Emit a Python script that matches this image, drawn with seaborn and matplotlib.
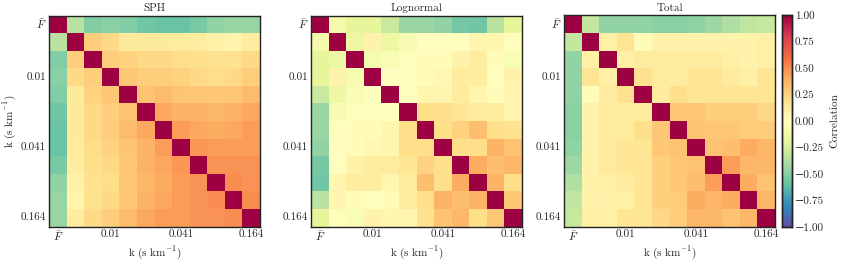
# 3種類の共分散から求めた相関行列を並べて描くコード

import matplotlib

matplotlib.use("Agg")
import matplotlib.pyplot as plt
from matplotlib.ticker import AutoMinorLocator
import numpy as np
import seaborn as sns


# ======================== データ ========================
# 各行は対角より右側（上三角）の相関係数。インデックス0が平均フラックス F̄
SPH_UPPER = [
    [-0.35, -0.52, -0.50, -0.52, -0.57, -0.59, -0.59, -0.54, -0.48, -0.46, -0.46],
    [0.27, 0.22, 0.14, 0.14, 0.14, 0.13, 0.11, 0.09, 0.07, 0.11],
    [0.27, 0.25, 0.22, 0.22, 0.21, 0.20, 0.18, 0.18, 0.22],
    [0.30, 0.27, 0.27, 0.25, 0.22, 0.21, 0.22, 0.27],
    [0.32, 0.35, 0.31, 0.30, 0.29, 0.30, 0.35],
    [0.42, 0.38, 0.38, 0.36, 0.38, 0.42],
    [0.45, 0.42, 0.40, 0.42, 0.45],
    [0.47, 0.45, 0.45, 0.45],
    [0.48, 0.48, 0.48],
    [0.50, 0.48],
    [0.50],
]

LOGNORMAL_UPPER = [
    [-0.10, -0.18, -0.18, -0.30, -0.45, -0.45, -0.47, -0.55, -0.57, -0.35, -0.18],
    [-0.14, 0.08, -0.14, -0.07, 0.00, 0.00, 0.00, 0.07, 0.07, 0.01],
    [-0.08, -0.05, -0.02, 0.02, 0.03, 0.08, 0.12, 0.02, -0.05],
    [0.00, 0.00, 0.02, 0.05, 0.12, 0.12, 0.01, 0.08],
    [0.00, 0.07, 0.07, 0.13, 0.07, 0.03, 0.07],
    [0.20, 0.20, 0.16, 0.13, 0.13, 0.07],
    [0.20, 0.25, 0.33, 0.20, 0.18],
    [0.20, 0.20, 0.38, 0.32],
    [0.40, 0.33, 0.36],
    [0.38, 0.20],
    [0.30],
]

TOTAL_UPPER = [
    [-0.32, -0.47, -0.47, -0.47, -0.50, -0.50, -0.48, -0.44, -0.38, -0.33, -0.31],
    [0.10, 0.17, 0.03, 0.08, 0.08, 0.08, 0.08, 0.08, 0.08, 0.10],
    [0.10, 0.13, 0.13, 0.13, 0.13, 0.13, 0.10, 0.08, 0.10],
    [0.18, 0.13, 0.13, 0.16, 0.16, 0.13, 0.10, 0.16],
    [0.13, 0.20, 0.16, 0.16, 0.16, 0.16, 0.16],
    [0.30, 0.30, 0.26, 0.26, 0.26, 0.23],
    [0.32, 0.30, 0.30, 0.28, 0.28],
    [0.32, 0.33, 0.40, 0.36],
    [0.45, 0.36, 0.36],
    [0.40, 0.32],
    [0.36],
]

PANEL_TITLES = ["SPH", "Lognormal", "Total"]
TICK_INDEX = [0, 3, 7, 11]
TICK_LABELS = [r"$\bar{F}$", "0.01", "0.041", "0.164"]
CBAR_TICKS = [-1.0, -0.75, -0.5, -0.25, 0.0, 0.25, 0.5, 0.75, 1.0]


# ======================== 描画設定 ========================
def setup_plot_style() -> None:
    sns.set_theme(style="white")
    plt.rcParams["font.family"] = ["cmr10", "DejaVu Serif"]
    plt.rcParams["mathtext.fontset"] = "cm"
    plt.rcParams["axes.formatter.use_mathtext"] = True
    plt.rcParams["axes.unicode_minus"] = True
    plt.rcParams["font.size"] = 8


def to_matrix(upper: list[list[float]]) -> np.ndarray:
    n = len(upper) + 1
    mat = np.eye(n)
    for i, row in enumerate(upper):
        for j, val in enumerate(row):
            mat[i, i + 1 + j] = val
            mat[i + 1 + j, i] = val
    return mat


def style_frame(ax: plt.Axes) -> None:
    for spine in ax.spines.values():
        spine.set_visible(True)
        spine.set_linewidth(1.0)
        spine.set_color("#222222")


# ======================== 実行 ========================
if __name__ == "__main__":
    setup_plot_style()

    fig = plt.figure(figsize=(8.43, 2.61), dpi=100)
    lefts = [49 / 843, 311 / 843, 564 / 843]
    bottom = 34 / 261
    size_w = 211 / 843
    size_h = 212 / 261
    cbar_ax = fig.add_axes([782 / 843, bottom, 10 / 843, size_h])

    for idx, (title, upper) in enumerate(
        zip(PANEL_TITLES, [SPH_UPPER, LOGNORMAL_UPPER, TOTAL_UPPER])
    ):
        ax = fig.add_axes([lefts[idx], bottom, size_w, size_h])
        last = idx == 2
        mat = to_matrix(upper)
        sns.heatmap(
            mat,
            cmap="Spectral_r",
            vmin=-1,
            vmax=1,
            square=True,
            cbar=last,
            cbar_ax=cbar_ax if last else None,
            cbar_kws={"ticks": CBAR_TICKS} if last else None,
            ax=ax,
        )
        ticks = [t + 0.5 for t in TICK_INDEX]
        minor = [i + 0.5 for i in range(mat.shape[0])]
        ax.set_xticks(ticks)
        ax.set_xticklabels(TICK_LABELS, rotation=0, fontsize=8)
        ax.set_yticks(ticks)
        ax.set_yticklabels(TICK_LABELS, rotation=0, fontsize=8)
        ax.set_xticks(minor, minor=True)
        ax.set_yticks(minor, minor=True)
        ax.tick_params(
            axis="both", which="major", direction="in", length=3.5, width=0.7,
            top=True, right=True, bottom=True, left=True, color="#222222", pad=2,
        )
        ax.tick_params(
            axis="both", which="minor", direction="in", length=1.8, width=0.5,
            top=True, right=True, bottom=True, left=True, color="#222222",
        )
        style_frame(ax)
        ax.set_title(title, fontsize=8, pad=3)
        ax.set_xlabel(r"k (s km$^{-1}$)", fontsize=8, labelpad=1)
        if idx == 0:
            ax.set_ylabel(r"k (s km$^{-1}$)", fontsize=8, labelpad=2)
        else:
            ax.set_ylabel("")

    cbar_ax.set_yticklabels([f"{v:.2f}".replace("-", "\u2212") for v in CBAR_TICKS])
    cbar_ax.yaxis.set_minor_locator(AutoMinorLocator(5))
    cbar_ax.tick_params(which="major", direction="in", length=3.5, width=0.7,
                        labelsize=8, right=True, left=True, pad=2, color="#222222")
    cbar_ax.tick_params(which="minor", direction="in", length=1.8, width=0.5,
                        right=True, left=True, color="#222222")
    cbar_ax.set_ylabel("Correlation", fontsize=8)
    style_frame(cbar_ax)

    fig.savefig("out.png", dpi=100)
    plt.close(fig)
